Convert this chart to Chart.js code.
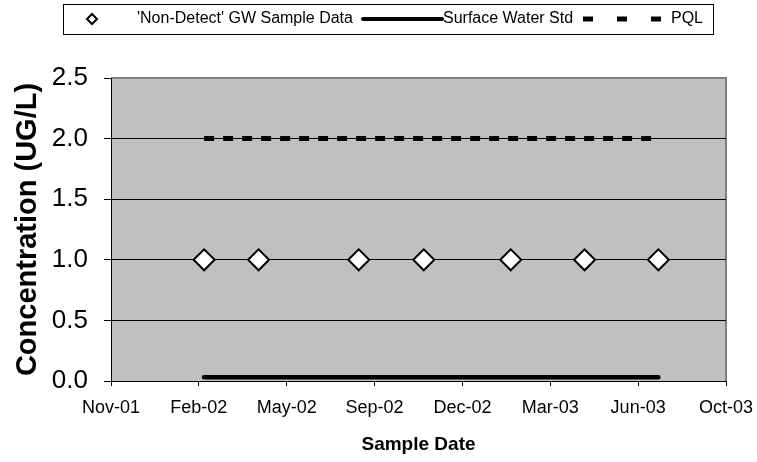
<html>
<head>
<style>
  body { margin: 0; background: #ffffff; }
</style>
</head>
<body>
<div>
  <canvas id="myChart" width="757" height="462"></canvas>
</div>
<script src="https://cdn.jsdelivr.net/npm/chart.js"></script>
<script>
// sample data
const sampleDates = ['2002-02-20', '2002-04-23', '2002-08-15', '2002-10-28', '2003-02-04', '2003-04-29', '2003-07-22'];
const nonDetectGW = [1.0, 1.0, 1.0, 1.0, 1.0, 1.0, 1.0];
const surfaceWaterStd = [0.03, 0.03, 0.03, 0.03, 0.03, 0.03, 0.03];
const pql = [2.0, 2.0, 2.0, 2.0, 2.0, 2.0, 2.0];

// x axis (Excel style date axis, 100 day major unit)
const xStart = '2001-11-06';
const xEnd = '2003-10-07';
const xStepDays = 100;
const yTicks = [0, 0.5, 1.0, 1.5, 2.0, 2.5];

const months = ['Jan','Feb','Mar','Apr','May','Jun','Jul','Aug','Sep','Oct','Nov','Dec'];
const toDay = s => {
  const p = s.split('-');
  return Date.UTC(+p[0], +p[1] - 1, +p[2]) / 86400000;
};
const fmtDay = v => {
  const d = new Date(Math.round(v) * 86400000);
  return months[d.getUTCMonth()] + '-' + String(d.getUTCFullYear() % 100).padStart(2, '0');
};
const pts = vals => vals.map((v, i) => ({x: toDay(sampleDates[i]), y: v}));

const FONT = "'Liberation Sans', Arial, sans-serif";

const plotBg = {
  id: 'plotBg',
  beforeDraw(chart) {
    const {ctx, chartArea: a} = chart;
    ctx.save();
    ctx.fillStyle = '#c0c0c0';
    ctx.fillRect(a.left, a.top, a.right - a.left, a.bottom - a.top);
    ctx.strokeStyle = '#808080';
    ctx.lineWidth = 2;
    ctx.beginPath();
    ctx.moveTo(a.left, a.top);
    ctx.lineTo(a.right, a.top);
    ctx.lineTo(a.right, a.bottom);
    ctx.stroke();
    ctx.restore();
  }
};

// legend box like the Excel one
const boxLegend = {
  id: 'boxLegend',
  afterDraw(chart) {
    const ctx = chart.ctx;
    const ds = chart.data.datasets;
    const cy = 19;
    ctx.save();
    ctx.strokeStyle = '#000';
    ctx.lineWidth = 1;
    ctx.strokeRect(63.5, 4.5, 650, 30);

    // diamond
    ctx.beginPath();
    ctx.moveTo(92, cy - 5);
    ctx.lineTo(97, cy);
    ctx.lineTo(92, cy + 5);
    ctx.lineTo(87, cy);
    ctx.closePath();
    ctx.fillStyle = '#fff';
    ctx.fill();
    ctx.lineWidth = 2;
    ctx.stroke();

    ctx.fillStyle = '#000';
    ctx.font = '16px ' + FONT;
    ctx.textBaseline = 'middle';
    ctx.textAlign = 'left';
    ctx.fillText(ds[0].label, 137, cy);

    ctx.lineWidth = 4;
    ctx.lineCap = 'round';
    ctx.beginPath();
    ctx.moveTo(363, cy);
    ctx.lineTo(442, cy);
    ctx.stroke();
    ctx.fillText(ds[1].label, 443, cy);

    ctx.lineWidth = 5;
    ctx.lineCap = 'butt';
    ctx.setLineDash([10, 24]);
    ctx.beginPath();
    ctx.moveTo(583, cy);
    ctx.lineTo(661, cy);
    ctx.stroke();
    ctx.setLineDash([]);
    ctx.fillText(ds[2].label, 671, cy);
    ctx.restore();
  }
};

const data = {
  datasets: [{
    label: "'Non-Detect' GW Sample Data",
    data: pts(nonDetectGW),
    showLine: false,
    pointStyle: 'rectRot',
    pointRadius: 10.5,
    pointBackgroundColor: '#ffffff',
    pointBorderColor: '#000000',
    pointBorderWidth: 2,
  }, {
    label: 'Surface Water Std',
    data: pts(surfaceWaterStd),
    borderColor: '#000000',
    borderWidth: 4.5,
    borderCapStyle: 'round',
    pointRadius: 0,
  }, {
    label: 'PQL',
    data: pts(pql),
    borderColor: '#000000',
    borderWidth: 5,
    borderDash: [10, 9],
    pointRadius: 0,
  }]
};

const config = {
  type: 'line',
  data: data,
  plugins: [plotBg, boxLegend],
  options: {
    responsive: false,
    animation: false,
    layout: { padding: { left: 0, right: 31, top: 78, bottom: 0 } },
    plugins: {
      legend: { display: false },
      tooltip: { enabled: false }
    },
    scales: {
      x: {
        type: 'linear',
        min: toDay(xStart),
        max: toDay(xEnd),
        afterFit: s => {
          s.height = 81;
          s.paddingLeft = 0;
          s.paddingRight = 0;
        },
        grid: { drawOnChartArea: false, drawTicks: true, tickLength: 5, color: '#000' },
        border: { color: '#000', width: 1 },
        ticks: {
          stepSize: xStepDays,
          maxRotation: 0,
          autoSkip: false,
          padding: 11,
          color: '#000',
          font: { family: FONT, size: 18 },
          callback: v => fmtDay(v)
        },
        title: {
          display: true,
          text: 'Sample Date',
          color: '#000',
          font: { family: FONT, size: 19, weight: 'bold' },
          padding: { top: 4, bottom: 6 }
        }
      },
      y: {
        min: yTicks[0],
        max: yTicks[yTicks.length - 1],
        afterFit: s => { s.width = 111; },
        grid: {
          color: c => (c.tick && c.tick.value === 2.5) ? '#808080' : '#000',
          tickColor: '#000',
          tickLength: 7
        },
        border: { color: '#000', width: 1 },
        ticks: {
          stepSize: 0.5,
          padding: 16,
          color: '#000',
          font: { family: FONT, size: 26 },
          callback: v => v.toFixed(1)
        },
        title: {
          display: true,
          text: 'Concentration (UG/L)',
          color: '#000',
          font: { family: FONT, size: 29, weight: 'bold' },
          padding: { top: 11, bottom: 0 }
        }
      }
    }
  }
};

const myChart = new Chart(document.getElementById('myChart'), config);
</script>
</body>
</html>
